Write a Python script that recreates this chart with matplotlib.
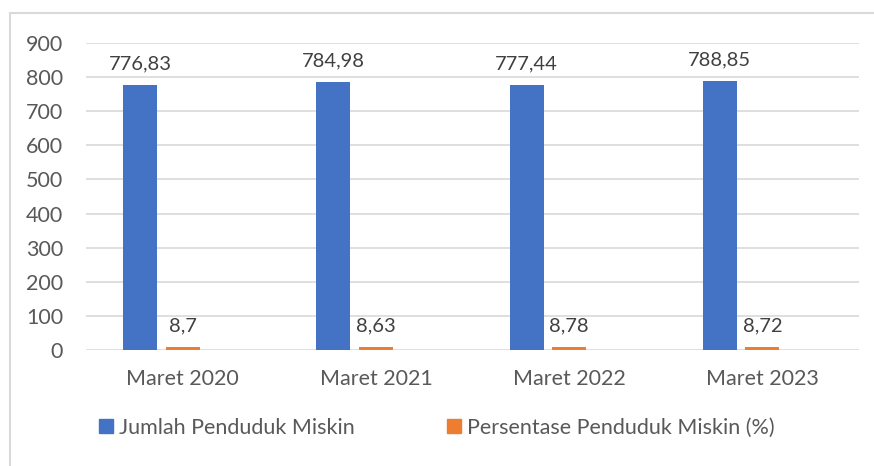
import numpy as np
import matplotlib.pyplot as plt
from matplotlib.patches import Rectangle
from matplotlib.lines import Line2D

categories = ['Maret 2020', 'Maret 2021', 'Maret 2022', 'Maret 2023']
jumlah = [776.83, 784.98, 777.44, 788.85]
persen = [8.7, 8.63, 8.78, 8.72]
series_names = ['Jumlah Penduduk Miskin', 'Persentase Penduduk Miskin (%)']
yticks = np.arange(0, 1000, 100)

blue = '#4472C4'
orange = '#ED7D31'
grey_txt = '#595959'
dark_txt = '#404040'
grid_col = '#D9D9D9'

plt.rcParams['font.family'] = ['Lato', 'DejaVu Sans']

W, H = 874, 466
fig = plt.figure(figsize=(W / 100, H / 100), dpi=100)
ax = fig.add_axes([86 / W, 1 - 350 / H, (859 - 86) / W, (350 - 43) / H])

x = np.arange(len(categories))
w = 0.176
step = 0.22  # third (empty) series slot sits to the right, Excel-style
b1 = ax.bar(x - step, jumlah, w, color=blue, zorder=3)
b2 = ax.bar(x, persen, w, color=orange, zorder=3)

def fmt(v):
    return f'{v:g}'.replace('.', ',')

for bars, vals in [(b1, jumlah), (b2, persen)]:
    for r, v in zip(bars, vals):
        ax.annotate(fmt(v), (r.get_x() + r.get_width() / 2, r.get_height()),
                    xytext=(0, 9), textcoords='offset points',
                    ha='center', va='bottom', fontsize=14.5, color=dark_txt)

ax.set_xlim(-0.5, len(categories) - 0.5)
ax.set_ylim(0, 900)
ax.set_yticks(yticks)
ax.set_xticks(x)
ax.set_xticklabels(categories)
ax.tick_params(axis='both', length=0, labelsize=15.5, labelcolor=grey_txt)
ax.tick_params(axis='y', pad=16.5)
ax.tick_params(axis='x', pad=14)
ax.grid(axis='y', color=grid_col, linewidth=1.2, zorder=0)
for s in ax.spines.values():
    s.set_visible(False)

handles = [Line2D([], [], marker='s', linestyle='none', markersize=9.5,
                  markerfacecolor=c, markeredgecolor=c) for c in (blue, orange)]
leg = fig.legend(handles, series_names, loc='center', bbox_to_anchor=(436 / W, 1 - 428 / H),
                 ncol=2, frameon=False, fontsize=15.5, handletextpad=0.2,
                 columnspacing=4.2, handlelength=0.8)
for t in leg.get_texts():
    t.set_color(grey_txt)

fig.patches.append(Rectangle((10 / W, -0.1), 1.1, 1 - 13 / H + 0.1,
                             transform=fig.transFigure, fill=False,
                             edgecolor=grid_col, linewidth=1.5))

fig.savefig('out.png', dpi=100)
